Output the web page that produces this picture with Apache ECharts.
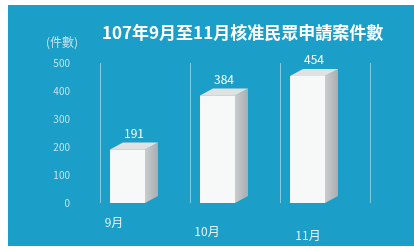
<!DOCTYPE html>
<html><head><meta charset="utf-8">
<script src="https://cdn.jsdelivr.net/npm/echarts@6/dist/echarts.min.js"></script>
<style>html,body{margin:0;padding:0;background:#fff}#c{width:414px;height:251px}</style>
</head><body><div id="c"></div>
<script>
const titleText = '107年9月至11月核准民眾申請案件數';
const unitName = '(件數)';
const categories = ['9月', '10月', '11月'];
const values = [191, 384, 454];
const yTicks = {min: 0, max: 500, interval: 100};

const chart = echarts.init(document.getElementById('c'));
const FF = '"Noto Sans CJK TC", "Noto Sans", sans-serif';
const labelShift = [[0, 62], [9, 56], [13, 34]];
const rich = {};
labelShift.forEach((s, i) => { rich['r' + i] = {padding: [s[0], s[1], 0, 0], color: '#e3f3f8', fontSize: 12, fontFamily: FF}; });

chart.setOption({
  backgroundColor: '#ffffff',
  animation: false,
  graphic: [{type: 'rect', z: -10, silent: true, shape: {x: 8, y: 5, width: 406, height: 241}, style: {fill: '#1b9ec7'}}],
  title: {text: titleText, left: 97, top: 19, textStyle: {color: '#ffffff', fontSize: 17, fontWeight: 'bold', fontFamily: FF}},
  grid: {left: 100, right: 44, top: 63, bottom: 48},
  xAxis: {
    type: 'category', data: categories,
    axisLine: {show: false}, axisTick: {show: false},
    splitLine: {show: true, lineStyle: {color: 'rgba(255,255,255,0.45)', width: 1}},
    axisLabel: {margin: 13, formatter: (v, i) => '{r' + i + '|' + v + '}', rich: rich}
  },
  yAxis: {
    type: 'value', min: yTicks.min, max: yTicks.max, interval: yTicks.interval,
    name: unitName, nameLocation: 'end', nameGap: 15,
    nameTextStyle: {color: '#c4e4ee', fontSize: 12, align: 'right', padding: [0, 22, 0, 0], fontFamily: FF},
    axisLine: {show: false}, axisTick: {show: false}, splitLine: {show: false},
    axisLabel: {color: '#c4e4ee', fontSize: 10, margin: 30, fontFamily: FF}
  },
  series: [{
    type: 'custom',
    data: values.map((v, i) => [i, v]),
    encode: {x: 0, y: 1},
    renderItem: function (params, api) {
      const idx = api.value(0);
      const v = api.value(1);
      const top = api.coord([idx, v]);
      const base = api.coord([idx, 0]);
      const cx = top[0];
      const fl = cx - 35, fr = cx, dx = 13, dy = -7;
      const ty = top[1], by = base[1];
      return {
        type: 'group',
        children: [
          {type: 'polygon', shape: {points: [[fr, ty], [fr + dx, ty + dy], [fr + dx, by + dy], [fr, by]]},
           style: {fill: {type: 'linear', x: 0, y: 0, x2: 1, y2: 0, colorStops: [{offset: 0, color: '#c9cdd0'}, {offset: 1, color: '#a9adb0'}]}}},
          {type: 'polygon', shape: {points: [[fl, ty], [fr, ty], [fr + dx, ty + dy], [fl + dx, ty + dy]]},
           style: {fill: '#dfe1e2'}},
          {type: 'rect', shape: {x: fl, y: ty, width: fr - fl, height: by - ty},
           style: {fill: '#f7f8f8'}},
          {type: 'text', style: {text: String(v), x: (fl + fr + dx) / 2, y: ty + dy - 3, align: 'center', verticalAlign: 'bottom',
            fill: '#ffffff', fontSize: 12, fontFamily: FF}}
        ]
      };
    }
  }]
});
</script></body></html>
